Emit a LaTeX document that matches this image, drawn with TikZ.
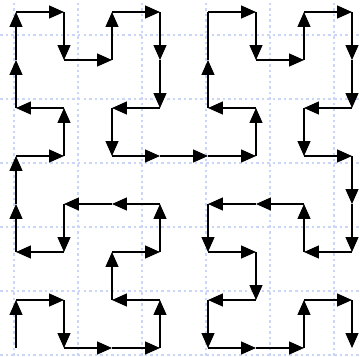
\documentclass[tikz,border=0pt]{standalone}
\usepackage{xcolor}
\usepackage{tikz}
\usetikzlibrary{arrows.meta}
\definecolor{gridblue}{RGB}{203,213,247}
\tikzstyle{seg} = [line width=0.7pt,-{Triangle[length=0.31cm,width=0.27cm]}]

\begin{document}
\begin{tikzpicture}[
    gridline/.style={draw=gridblue, line width=0.8pt, dash pattern=on 1.5pt off 1.8pt},
    plainseg/.style={line width=0.7pt}
]
\useasboundingbox (-1/3,-1/6) rectangle (43/6,7.25);
% dotted help grid
\foreach \gx in {0,...,5}
  \draw[gridline] ({-0.0417+\gx*4/3},-1/6) -- ({-0.0417+\gx*4/3},7.25);
\foreach \gy in {0,...,5}
  \draw[gridline] (-1/3,{-0.1458+\gy*4/3}) -- (43/6,{-0.1458+\gy*4/3});
% lattice points p<col><row>
\foreach \i in {0,...,7}
  \foreach \j in {0,...,7}
    \coordinate (p\i\j) at (\i,\j);
% curve, one arrow per step
\foreach \a/\b in {00/01,01/11,11/10,10/20,20/30,30/31,31/21,21/22,22/32,32/33,
                   33/23,23/13,13/12,12/02,02/03,03/04,04/14,14/15,15/05,05/06,
                   06/07,07/17,17/16,16/26,26/27,27/37,37/36,36/35,35/25,25/24,
                   24/34,34/44,44/54,54/55,55/45,45/46,47/57,57/56,56/66,66/67,
                   67/77,77/76,76/75,75/65,65/64,64/74,74/73,73/72,72/62,62/63,
                   63/53,53/43,43/42,42/52,52/51,51/41,41/40,40/50,50/60,60/61,
                   61/71,71/70}
  \draw[seg] (p\a) -- (p\b);
\draw[plainseg] (p46) -- (p47);
\end{tikzpicture}
\end{document}
